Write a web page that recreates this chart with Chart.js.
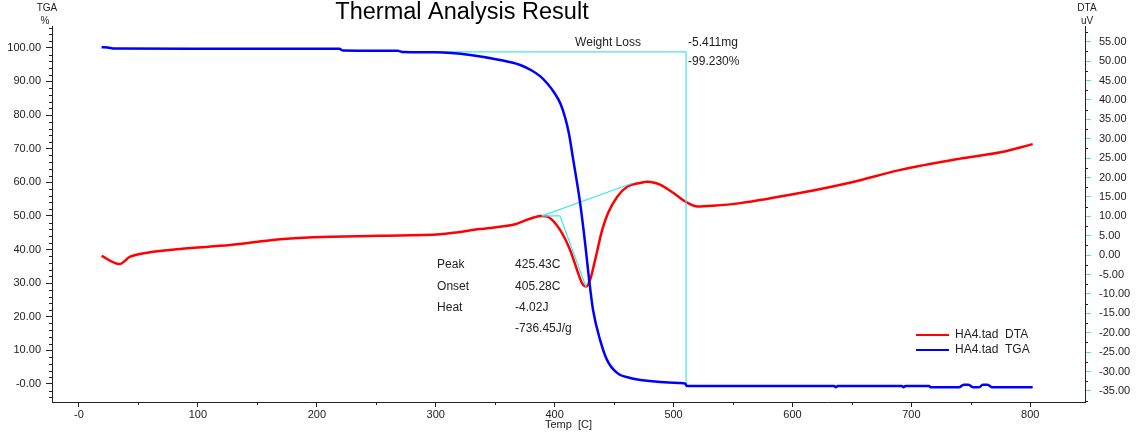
<!DOCTYPE html>
<html>
<head>
<meta charset="utf-8">
<title>Thermal Analysis Result</title>
<script src="https://cdn.jsdelivr.net/npm/chart.js@4/dist/chart.umd.min.js"></script>
<style>
    html, body { margin: 0; padding: 0; background: #fff; }
    #wrap { width: 1139px; height: 434px; }
</style>
</head>
<body>
<div id="wrap"><canvas id="thermalChart" width="1139" height="434"></canvas></div>
<script>
// TGA curve (left axis, %)
const tgaTemps = [19, 24, 30, 100, 219, 222, 268, 272, 300, 329, 354, 371, 380, 388, 394, 400, 405, 409,
    412, 415.5, 421.4, 425.6, 429, 432.3, 438.2, 444.1, 452.5, 463.4, 488.6, 505, 510, 511, 600, 635,
    636.5, 638, 692, 693.5, 695, 715, 716, 740, 744, 748, 752, 757, 760, 764, 768, 802];
const tgaValues = [100.2, 100.1, 99.8, 99.75, 99.7, 99.2, 99.1, 98.8, 98.7, 97.9, 96.4, 94.9, 93.4, 91.5,
    89.3, 86.5, 83.3, 79.0, 74.5, 67.0, 53.9, 42.0, 31.0, 22.0, 13.1, 7.1, 3.3, 1.8, 0.6, 0.3, 0.1, -0.6,
    -0.6, -0.6, -1.0, -0.6, -0.6, -1.0, -0.6, -0.6, -1.0, -1.0, -0.2, -0.2, -1.0, -1.0, -0.2, -0.2, -1.0,
    -1.0];

// DTA curve (right axis, uV)
const dtaTemps = [19, 34, 43, 51, 85, 127, 169, 197, 253, 304, 337, 365, 389, 394, 404.5, 413, 418.8, 423,
    426.5, 429.8, 434, 440, 445, 452.5, 461, 472, 478, 483, 489, 500, 510, 520, 533, 556, 606, 650, 690,
    740, 775, 802];
const dtaValues = [-0.2, -2.3, -0.4, 0.3, 1.6, 2.6, 4.1, 4.6, 5.0, 5.4, 6.7, 7.8, 10.1, 9.9, 6.5, 1.3, -3.8,
    -7.2, -8.1, -6.4, -1.3, 6.5, 10.9, 15.0, 17.6, 18.6, 18.9, 18.7, 18.1, 16.0, 13.8, 12.5, 12.7, 13.4,
    16.0, 18.8, 21.9, 24.8, 26.5, 28.6];

// analysis construction lines
const weightLossTemps = [302, 510.5, 510.5];
const weightLossValues = [98.8, 98.8, -0.6];
const baselineTemps = [389.4, 466];
const baselineValues = [10.1, 18.6];
const onsetTemps = [389.4, 404.5, 426.4];
const onsetValues = [10.1, 10.1, -8.2];

// tick labels
const xTicks = [0, 100, 200, 300, 400, 500, 600, 700, 800];
const tgaTicks = [0, 10, 20, 30, 40, 50, 60, 70, 80, 90, 100];
const dtaTicks = [-35, -30, -25, -20, -15, -10, -5, 0, 5, 10, 15, 20, 25, 30, 35, 40, 45, 50, 55];

const legendLabels = ["HA4.tad  DTA", "HA4.tad  TGA"];

const FONT = '"Liberation Sans", Arial, sans-serif';
const CYAN = "#44e4f0";

function toPoints(xs, ys) {
    return xs.map((x, i) => ({ x: x, y: ys[i] }));
}

// Text, legend and minor ticks drawn on top of the chart
const extrasPlugin = {
    id: "extras",
    afterDraw(chart) {
        const ctx = chart.ctx;
        const xs = chart.scales.x;
        const yl = chart.scales.y;
        const yr = chart.scales.y1;
        const area = chart.chartArea;

        ctx.save();
        // minor ticks
        ctx.strokeStyle = "#222";
        ctx.lineWidth = 1;
        ctx.beginPath();
        for (let v = -4; v <= 106; v += 2) {
            if (v % 10 === 0) continue;
            const py = Math.round(yl.getPixelForValue(v)) + 0.5;
            ctx.moveTo(area.left - 3, py);
            ctx.lineTo(area.left, py);
        }
        for (let v = -37.5; v <= 57.5; v += 5) {
            const py = Math.round(yr.getPixelForValue(v)) + 0.5;
            ctx.moveTo(area.right, py);
            ctx.lineTo(area.right + 3, py);
        }
        for (let v = -50; v <= 850; v += 100) {
            if (v < xs.min || v > xs.max) continue;
            const px = Math.round(xs.getPixelForValue(v)) + 0.5;
            ctx.moveTo(px, area.bottom);
            ctx.lineTo(px, area.bottom + 3);
        }
        ctx.stroke();

        // title and axis units
        ctx.fillStyle = "#000";
        ctx.textAlign = "center";
        ctx.textBaseline = "middle";
        ctx.font = "23.5px " + FONT;
        ctx.fillText("Thermal Analysis Result", 462, 13);
        ctx.fillStyle = "#222";
        ctx.font = "10px " + FONT;
        ctx.fillText("TGA", 47, 8);
        ctx.fillText("%", 45, 21);
        ctx.fillText("DTA", 1087, 8);
        ctx.fillText("uV", 1087, 21);

        // analysis texts
        ctx.font = "12px " + FONT;
        ctx.textAlign = "left";
        const put = (t, tx, ty) => ctx.fillText(t, xs.getPixelForValue(tx), yl.getPixelForValue(ty));
        put("Weight Loss", 417.2, 101.5);
        put("-5.411mg", 512.2, 101.5);
        put("-99.230%", 512.2, 95.8);
        put("Peak", 301.1, 35.4);
        put("425.43C", 366.7, 35.4);
        put("Onset", 301.1, 28.9);
        put("405.28C", 366.7, 28.9);
        put("Heat", 301.1, 22.6);
        put("-4.02J", 366.7, 22.6);
        put("-736.45J/g", 366.7, 16.4);

        // legend
        const lx = area.right - 169;
        const ly = area.bottom - 67;
        const legendColors = [chart.data.datasets[0].borderColor, chart.data.datasets[1].borderColor];
        legendLabels.forEach((label, i) => {
            const y = ly + i * 15;
            ctx.strokeStyle = legendColors[i];
            ctx.lineWidth = 2;
            ctx.beginPath();
            ctx.moveTo(lx, y);
            ctx.lineTo(lx + 33, y);
            ctx.stroke();
            ctx.fillStyle = "#222";
            ctx.fillText(label, lx + 39, y);
        });
        ctx.restore();
    },
};

const ctx = document.getElementById("thermalChart").getContext("2d");

window.thermalChart = new Chart(ctx, {
    type: "line",
    data: {
        datasets: [
            {
                label: "HA4.tad DTA",
                data: toPoints(dtaTemps, dtaValues),
                borderColor: "#ff0000",
                borderWidth: 2.5,
                yAxisID: "y1",
                order: 3,
            },
            {
                label: "HA4.tad TGA",
                data: toPoints(tgaTemps, tgaValues),
                borderColor: "#0000ff",
                borderWidth: 2.5,
                yAxisID: "y",
                order: 0,
            },
            {
                label: "weight loss",
                data: toPoints(weightLossTemps, weightLossValues),
                borderColor: CYAN,
                borderWidth: 1.2,
                yAxisID: "y",
                cubicInterpolationMode: "default",
                tension: 0,
                order: 2,
            },
            {
                label: "baseline",
                data: toPoints(baselineTemps, baselineValues),
                borderColor: CYAN,
                borderWidth: 1.2,
                yAxisID: "y1",
                tension: 0,
                cubicInterpolationMode: "default",
                order: 1,
            },
            {
                label: "onset",
                data: toPoints(onsetTemps, onsetValues),
                borderColor: CYAN,
                borderWidth: 1.2,
                yAxisID: "y1",
                tension: 0,
                cubicInterpolationMode: "default",
                order: 1,
            },
        ],
    },
    options: {
        responsive: false,
        animation: false,
        layout: { padding: { top: 26, left: 0, right: 0, bottom: 0 } },
        elements: {
            point: { radius: 0 },
            line: { cubicInterpolationMode: "monotone", fill: false },
        },
        scales: {
            x: {
                type: "linear",
                position: "bottom",
                min: -22.7,
                max: 846,
                afterBuildTicks: (scale) => { scale.ticks = xTicks.map((v) => ({ value: v })); },
                afterFit: (scale) => { scale.height = 32; },
                grid: { drawOnChartArea: false, drawTicks: true, tickLength: 5, color: "#222" },
                border: { color: "#222", width: 1 },
                ticks: {
                    color: "#222",
                    font: { size: 11, family: FONT },
                    padding: 1,
                    maxRotation: 0,
                    callback: (v) => (v === 0 ? "-0" : String(v)),
                },
                title: {
                    display: true,
                    text: "Temp  [C]",
                    color: "#222",
                    font: { size: 11, family: FONT },
                    padding: { top: 0, bottom: 2 },
                },
            },
            y: {
                type: "linear",
                position: "left",
                min: -5.36,
                max: 106.5,
                afterBuildTicks: (scale) => { scale.ticks = tgaTicks.map((v) => ({ value: v })); },
                afterFit: (scale) => { scale.width = 52; },
                grid: { drawOnChartArea: false, drawTicks: true, tickLength: 6, color: "#222" },
                border: { color: "#222", width: 1 },
                ticks: {
                    color: "#222",
                    font: { size: 11, family: FONT },
                    padding: 5,
                    callback: (v) => (v === 0 ? "-0.00" : v.toFixed(2)),
                },
            },
            y1: {
                type: "linear",
                position: "right",
                min: -37.86,
                max: 59.05,
                afterBuildTicks: (scale) => { scale.ticks = dtaTicks.map((v) => ({ value: v })); },
                afterFit: (scale) => { scale.width = 54; },
                grid: { drawOnChartArea: false, drawTicks: true, tickLength: 6, color: CYAN },
                border: { color: "#222", width: 1 },
                ticks: {
                    color: "#222",
                    font: { size: 11, family: FONT },
                    padding: 8,
                    callback: (v) => v.toFixed(2),
                },
            },
        },
        plugins: {
            legend: { display: false },
            title: { display: false },
            tooltip: { enabled: false },
        },
    },
    plugins: [extrasPlugin],
});
</script>
</body>
</html>
